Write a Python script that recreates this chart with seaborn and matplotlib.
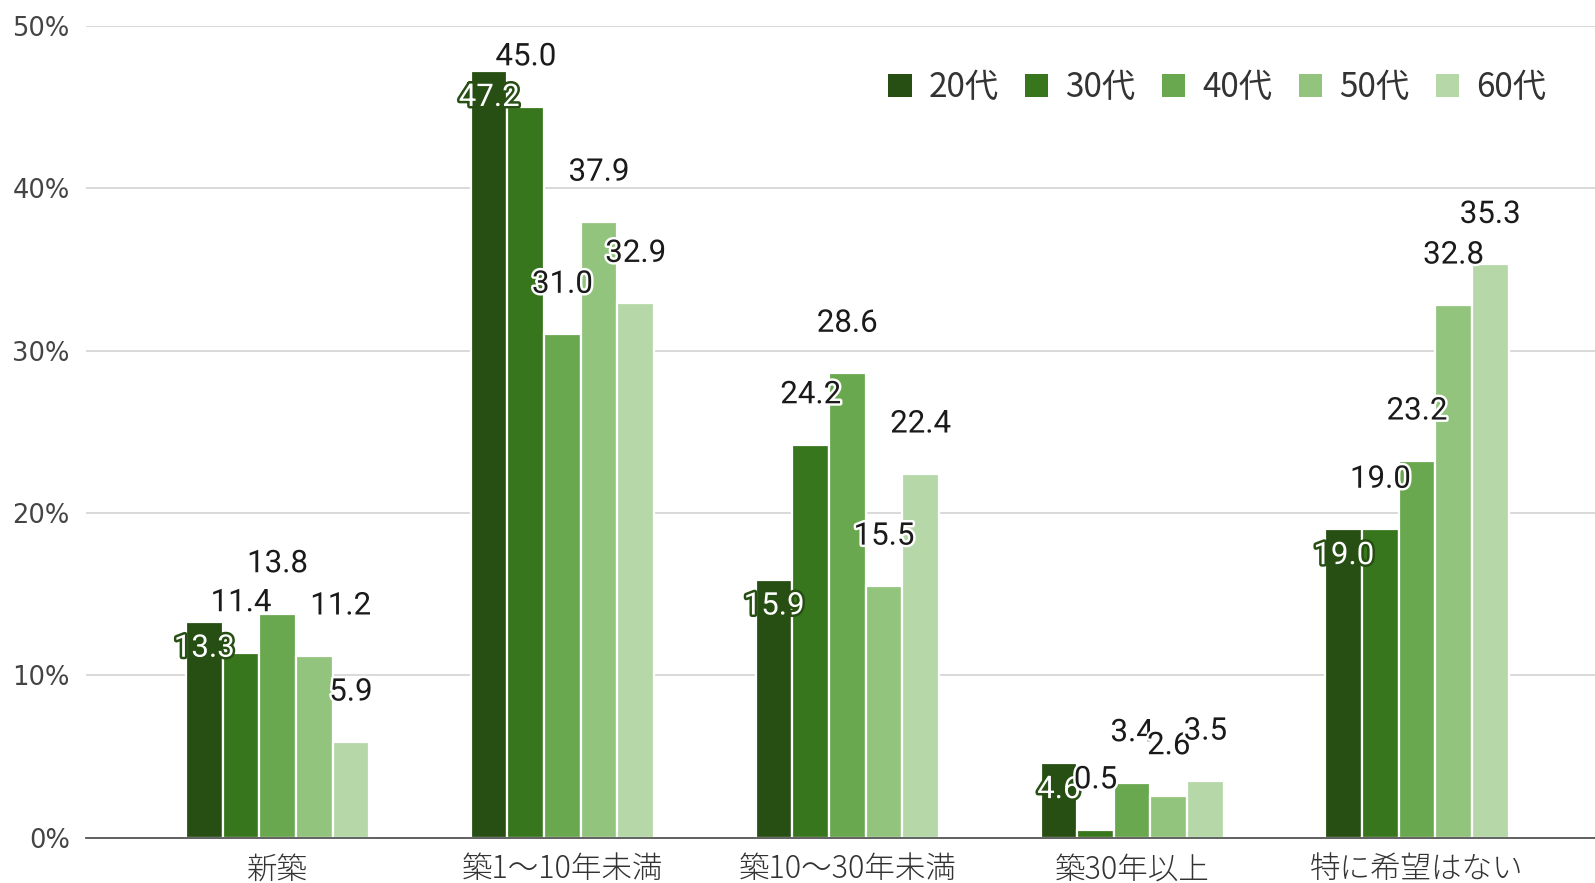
import matplotlib
matplotlib.use("Agg")
import matplotlib.pyplot as plt
import matplotlib.patheffects as pe
from matplotlib.ticker import FuncFormatter
import seaborn as sns
import pandas as pd

# Survey: preferred building age by respondent age group (%)
categories = ["新築", "築1〜10年未満", "築10〜30年未満", "築30年以上", "特に希望はない"]
age_groups = ["20代", "30代", "40代", "50代", "60代"]
values_20s = [13.3, 47.2, 15.9, 4.6, 19.0]
values_30s = [11.4, 45.0, 24.2, 0.5, 19.0]
values_40s = [13.8, 31.0, 28.6, 3.4, 23.2]
values_50s = [11.2, 37.9, 15.5, 2.6, 32.8]
values_60s = [5.9, 32.9, 22.4, 3.5, 35.3]
y_ticks = [0, 10, 20, 30, 40, 50]

palette = ["#274e13", "#38761d", "#6aa84f", "#93c47d", "#b6d7a8"]

series = [values_20s, values_30s, values_40s, values_50s, values_60s]
df = pd.DataFrame(
    [(c, g, v) for g, vals in zip(age_groups, series) for c, v in zip(categories, vals)],
    columns=["category", "age", "value"],
)

sns.set_theme(style="white")
plt.rcParams["font.family"] = ["Noto Sans CJK JP", "DejaVu Sans"]

fig = plt.figure(figsize=(15.95, 8.83), dpi=100)
ax = fig.add_axes([0.0542, 0.051, 0.9458, 0.920])

sns.barplot(
    data=df, x="category", y="value", hue="age",
    order=categories, hue_order=age_groups, palette=palette,
    width=0.643, saturation=1, edgecolor="white", linewidth=1.6,
    errorbar=None, ax=ax,
)

ax.set_ylim(0, 50)
ax.set_xlim(-0.671, 4.625)
ax.set_yticks(y_ticks)
ax.yaxis.set_major_formatter(FuncFormatter(lambda v, _: f"{int(v)}%"))
ax.grid(axis="y", color="#d0d0d0", linewidth=1.1)
ax.set_axisbelow(True)
for side in ["left", "right", "top"]:
    ax.spines[side].set_visible(False)
ax.spines["bottom"].set_color("#555555")
ax.spines["bottom"].set_linewidth(1.3)
ax.set_xlabel("")
ax.set_ylabel("")
ax.tick_params(axis="y", length=0, pad=12, labelsize=18.5, labelcolor="#444444")
ax.tick_params(axis="x", length=0, pad=11, labelsize=22, labelcolor="#333333")
for t in ax.get_yticklabels():
    t.set_family("DejaVu Sans")
for t in ax.get_xticklabels():
    t.set_fontweight("light")

# Value labels: the first series sits inside its bar, the rest float above
label_shift_x = {(0, 3): 19}
for si, container in enumerate(ax.containers):
    for ci, bar in enumerate(container):
        v = bar.get_height()
        x = bar.get_x() + bar.get_width() / 2
        dx = label_shift_x.get((ci, si), 0)
        if si == 0:
            dy = -19
            color = "white"
            effects = [pe.withStroke(linewidth=3.6, foreground=palette[0])]
        else:
            dy = 36
            color = "#1a1a1a"
            effects = [pe.withStroke(linewidth=3.5, foreground="white")]
        ax.annotate(
            f"{v:.1f}", (x, v), xytext=(dx, dy), textcoords="offset points",
            ha="center", va="center", fontsize=22.5, family="Roboto",
            color=color, path_effects=effects, zorder=5,
        )

handles, labels = ax.get_legend_handles_labels()
leg = ax.legend(
    handles, labels, ncol=5, loc="center right",
    bbox_to_anchor=(0.988, 0.901), bbox_transform=fig.transFigure,
    frameon=False, fontsize=24, handlelength=0.7, handleheight=0.7,
    handletextpad=0.5, columnspacing=0.8, labelcolor="#333333",
)
for h in leg.legend_handles:
    h.set_edgecolor("none")

fig.savefig("out.png", dpi=100, facecolor="white")
